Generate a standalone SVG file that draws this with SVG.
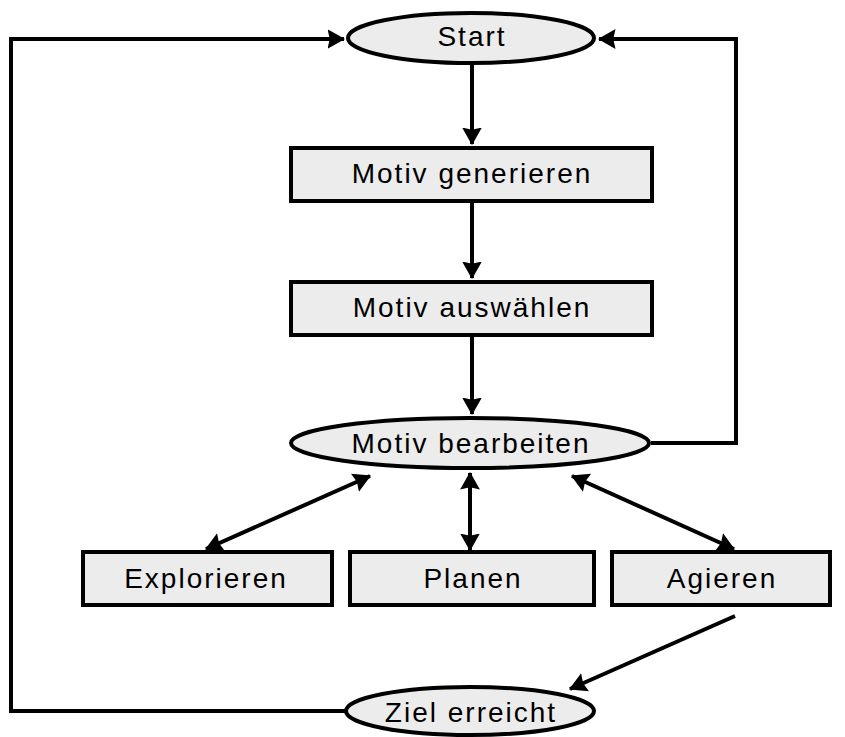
<svg xmlns="http://www.w3.org/2000/svg" width="845" height="737" viewBox="0 0 845 737">
<style>
.n{fill:#ececec;stroke:#000;stroke-width:4}
.t{font-family:"Liberation Sans",Arial,sans-serif;font-size:28px;letter-spacing:2px;fill:#000;text-anchor:middle}
.c{fill:none;stroke:#000;stroke-width:4}
</style>
<defs>
<marker id="ah" viewBox="0 0 8 9" refX="7.5" refY="4.5" markerWidth="4.4" markerHeight="5" orient="auto-start-reverse" markerUnits="strokeWidth">
<path d="M0,0 L8,4.5 L0,9 L1,4.5 Z" fill="#000"/>
</marker>
</defs>
<rect width="845" height="737" fill="#fff"/>
<g id="connectors">
<path class="c" d="M345,711 H11 V39 H344" marker-end="url(#ah)"/>
<path class="c" d="M651,443 H736 V39 H599" marker-end="url(#ah)"/>
<path class="c" d="M472,64 V144" marker-end="url(#ah)"/>
<path class="c" d="M472,203 V278" marker-end="url(#ah)"/>
<path class="c" d="M472,337 V414" marker-end="url(#ah)"/>
<path class="c" d="M370,476 L206,549" marker-start="url(#ah)" marker-end="url(#ah)"/>
<path class="c" d="M470,473 V550" marker-start="url(#ah)" marker-end="url(#ah)"/>
<path class="c" d="M572,476 L734,549" marker-start="url(#ah)" marker-end="url(#ah)"/>
<path class="c" d="M735,616 L570,689" marker-end="url(#ah)"/>
</g>
<g id="start"><ellipse class="n" cx="471" cy="38" rx="123" ry="25"/><text class="t" x="472" y="46">Start</text></g>
<g id="motiv-generieren"><rect class="n" x="291" y="148" width="361" height="53"/><text class="t" x="472" y="183">Motiv generieren</text></g>
<g id="motiv-auswaehlen"><rect class="n" x="291" y="282" width="361" height="53"/><text class="t" x="472" y="317">Motiv auswählen</text></g>
<g id="motiv-bearbeiten"><ellipse class="n" cx="470" cy="443" rx="179" ry="25"/><text class="t" x="471" y="453">Motiv bearbeiten</text></g>
<g id="explorieren"><rect class="n" x="83" y="552" width="249" height="53"/><text class="t" x="206" y="588">Explorieren</text></g>
<g id="planen"><rect class="n" x="350" y="552" width="244" height="53"/><text class="t" x="473" y="588">Planen</text></g>
<g id="agieren"><rect class="n" x="612" y="552" width="218" height="53"/><text class="t" x="722" y="588">Agieren</text></g>
<g id="ziel-erreicht"><ellipse class="n" cx="470" cy="711" rx="124" ry="24"/><text class="t" x="471" y="722">Ziel erreicht</text></g>
</svg>
